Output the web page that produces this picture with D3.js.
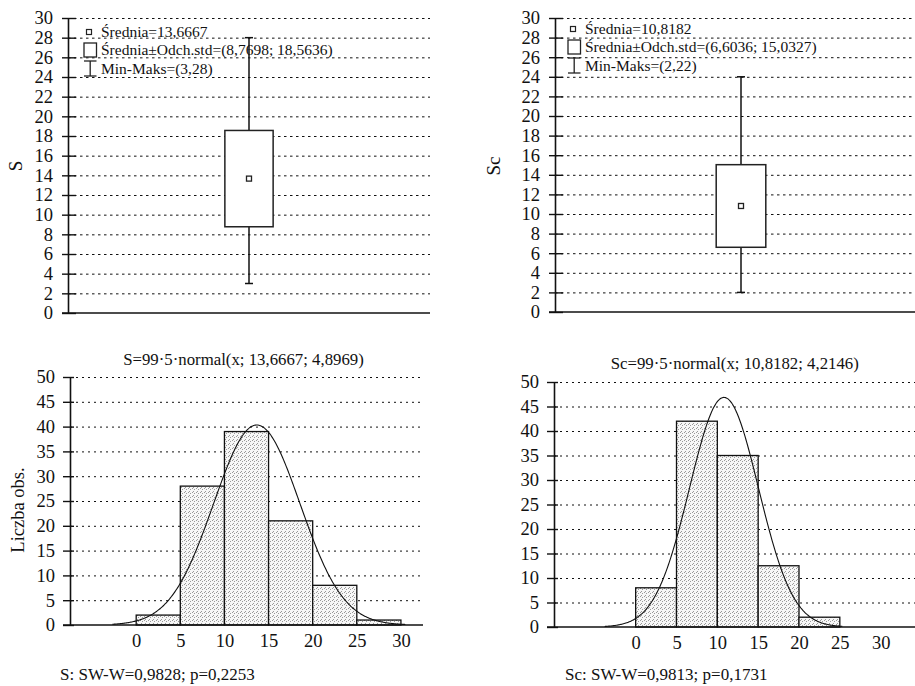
<!DOCTYPE html>
<html>
<head>
<meta charset="utf-8">
<script src="https://cdn.jsdelivr.net/npm/d3@7"></script>
<style>
  html, body { margin: 0; padding: 0; background: #fff; }
  svg { display: block; font-family: "Liberation Serif", "DejaVu Serif", serif; }
</style>
</head>
<body>
<svg id="chart" width="915" height="686"></svg>
<script>
// box plot values
const boxLabels = ['S', 'Sc'];
const boxMeans = [13.6667, 10.8182];
const boxLow = [8.7698, 6.6036];
const boxHigh = [18.5636, 15.0327];
const whiskerMin = [3, 2];
const whiskerMax = [28, 24];
const legendMean = ['Średnia=13,6667', 'Średnia=10,8182'];
const legendSd = ['Średnia±Odch.std=(8,7698; 18,5636)', 'Średnia±Odch.std=(6,6036; 15,0327)'];
const legendMinMax = ['Min-Maks=(3,28)', 'Min-Maks=(2,22)'];
const boxYTicks = [0, 2, 4, 6, 8, 10, 12, 14, 16, 18, 20, 22, 24, 26, 28, 30];

// histogram values
const binStarts = [0, 5, 10, 15, 20, 25];
const binWidth = 5;
const countsS = [2, 28, 39, 21, 8, 1];
const countsSc = [8, 42, 35, 12.5, 2, 0];
const histCounts = [countsS, countsSc];
const fitN = 99;
const fitMeans = [13.6667, 10.8182];
const fitSds = [4.8969, 4.2146];
const curveFrom = [-2.7, -3.8];
const curveTo = [30.5, 25.3];
const histXTicks = [0, 5, 10, 15, 20, 25, 30];
const histYTicks = [0, 5, 10, 15, 20, 25, 30, 35, 40, 45, 50];
const histTitles = ['S=99·5·normal(x; 13,6667; 4,8969)', 'Sc=99·5·normal(x; 10,8182; 4,2146)'];
const histFooters = ['S: SW-W=0,9828; p=0,2253', 'Sc: SW-W=0,9813; p=0,1731'];
const histYLabel = 'Liczba obs.';

const FONT = '"Liberation Serif", "DejaVu Serif", serif';
const svg = d3.select('#chart');

// stipple fill for the bars
const defs = svg.append('defs');
const pat = defs.append('pattern')
  .attr('id', 'stipple')
  .attr('patternUnits', 'userSpaceOnUse')
  .attr('width', 4).attr('height', 4);
pat.append('rect').attr('width', 4).attr('height', 4).attr('fill', '#f7f7f7');
[[0, 0], [2, 1], [1, 3]].forEach(([px, py]) => {
  pat.append('rect').attr('x', px).attr('y', py).attr('width', 1).attr('height', 1).attr('fill', '#9a9a9a');
});

const boxLayout = [
  { axisX: 68, right: 430, top: 18, bottom: 313, labelX: 15, labelY: 166, lx: 21, ly: 14 },
  { axisX: 555, right: 927, top: 18, bottom: 312, labelX: 493, labelY: 166, lx: 18, ly: 11 },
];

const histLayout = [
  { axisX: 70, right: 423, top: 377, bottom: 625, domain: [-7.5, 32.5], titleY: 365, footX: 60, footY: 680 },
  { axisX: 554, right: 921.5, top: 382, bottom: 627, domain: [-10, 35], titleY: 369, footX: 565, footY: 680 },
];

const yAxisStyle = (g, tickRight) => {
  g.attr('font-family', FONT);
  g.select('.domain').attr('stroke', '#111').attr('stroke-width', 1.6);
  g.selectAll('.tick line').attr('stroke', '#111').attr('stroke-width', 1.4);
  g.selectAll('.tick').append('line')
    .attr('x1', 0).attr('x2', tickRight)
    .attr('stroke', '#111').attr('stroke-width', 1.4);
  g.selectAll('.tick text').attr('font-size', 18.5).attr('fill', '#111');
};

// ---- box plots ----
boxLabels.forEach((name, i) => {
  const L = boxLayout[i];
  const g = svg.append('g');
  const y = d3.scaleLinear().domain([0, 30]).range([L.bottom, L.top]);
  const x = d3.scaleBand().domain([name]).range([L.axisX, L.right]).paddingOuter(3.25).paddingInner(0);

  // grid
  g.append('g')
    .attr('transform', `translate(${L.axisX},0)`)
    .call(d3.axisLeft(y).tickValues(boxYTicks.filter((d) => d > 0)).tickSize(-(L.right - L.axisX)).tickFormat(''))
    .call((a) => a.select('.domain').remove())
    .call((a) => a.selectAll('.tick line').attr('stroke', '#111').attr('stroke-dasharray', '2.5,3.5'));

  // x axis line
  g.append('line')
    .attr('x1', L.axisX - 6).attr('x2', L.right)
    .attr('y1', y(0)).attr('y2', y(0))
    .attr('stroke', '#111').attr('stroke-width', 1.6);

  g.append('g')
    .attr('transform', `translate(${L.axisX},0)`)
    .call(d3.axisLeft(y).tickValues(boxYTicks).tickSize(6).tickSizeOuter(0).tickPadding(9))
    .call((a) => yAxisStyle(a, 8));

  const cx = x(name) + x.bandwidth() / 2;
  // whisker
  g.append('line')
    .attr('x1', cx).attr('x2', cx)
    .attr('y1', y(whiskerMin[i])).attr('y2', y(whiskerMax[i]))
    .attr('stroke', '#111').attr('stroke-width', 1.5);
  [whiskerMin[i], whiskerMax[i]].forEach((v) => {
    g.append('line')
      .attr('x1', cx - 4).attr('x2', cx + 4)
      .attr('y1', y(v)).attr('y2', y(v))
      .attr('stroke', '#111').attr('stroke-width', 1.5);
  });
  // box
  g.append('rect')
    .attr('x', x(name)).attr('width', x.bandwidth())
    .attr('y', y(boxHigh[i])).attr('height', y(boxLow[i]) - y(boxHigh[i]))
    .attr('fill', '#fff').attr('stroke', '#222').attr('stroke-width', 1.5);
  g.append('rect')
    .attr('x', cx - 2.5).attr('y', y(boxMeans[i]) - 2.5)
    .attr('width', 5).attr('height', 5)
    .attr('fill', '#fff').attr('stroke', '#222').attr('stroke-width', 1.3);

  // y label
  g.append('text')
    .attr('transform', `translate(${L.labelX},${L.labelY}) rotate(-90)`)
    .attr('text-anchor', 'middle').attr('dy', '0.35em')
    .attr('font-size', 19).attr('fill', '#111')
    .text(name);

  // legend
  const lx = L.axisX + L.lx, ly = L.top + L.ly;
  const lg = g.append('g').attr('font-size', 15.5).attr('fill', '#111');
  lg.append('rect').attr('x', lx - 2.5).attr('y', ly - 2.5).attr('width', 5).attr('height', 5)
    .attr('fill', '#fff').attr('stroke', '#222').attr('stroke-width', 1.2);
  lg.append('rect').attr('x', lx - 5).attr('y', ly + 11).attr('width', 12.5).attr('height', 14)
    .attr('fill', '#fff').attr('stroke', '#222').attr('stroke-width', 1.3);
  const wx = lx + 1.2;
  lg.append('line').attr('x1', wx).attr('x2', wx).attr('y1', ly + 29).attr('y2', ly + 44).attr('stroke', '#222').attr('stroke-width', 1.3);
  [ly + 29, ly + 44].forEach((yy) => {
    lg.append('line').attr('x1', lx - 5).attr('x2', lx + 7.5).attr('y1', yy).attr('y2', yy).attr('stroke', '#222').attr('stroke-width', 1.3);
  });
  lg.append('text').attr('x', lx + 12).attr('y', ly + 4.5).text(legendMean[i]);
  lg.append('text').attr('x', lx + 12).attr('y', ly + 23).text(legendSd[i]);
  lg.append('text').attr('x', lx + 12).attr('y', ly + 42).text(legendMinMax[i]);
});

// ---- histograms ----
histCounts.forEach((counts, i) => {
  const L = histLayout[i];
  const g = svg.append('g');
  const x = d3.scaleLinear().domain(L.domain).range([L.axisX, L.right]);
  const y = d3.scaleLinear().domain([0, 50]).range([L.bottom, L.top]);

  g.append('g')
    .attr('transform', `translate(${L.axisX},0)`)
    .call(d3.axisLeft(y).tickValues(histYTicks.filter((d) => d > 0)).tickSize(-(L.right - L.axisX)).tickFormat(''))
    .call((a) => a.select('.domain').remove())
    .call((a) => a.selectAll('.tick line').attr('stroke', '#111').attr('stroke-dasharray', '2,4'));

  // bars
  g.selectAll('.bar')
    .data(binStarts.map((b, k) => ({ b, v: counts[k] })).filter((d) => d.v > 0))
    .join('rect')
    .attr('class', 'bar')
    .attr('x', (d) => x(d.b))
    .attr('width', (d) => x(d.b + binWidth) - x(d.b))
    .attr('y', (d) => y(d.v))
    .attr('height', (d) => y(0) - y(d.v))
    .attr('fill', 'url(#stipple)')
    .attr('stroke', '#111').attr('stroke-width', 1.3);

  // fitted normal curve, as given in the title
  const pdf = (v) => fitN * binWidth * Math.exp(-0.5 * ((v - fitMeans[i]) / fitSds[i]) ** 2) / (fitSds[i] * Math.sqrt(2 * Math.PI));
  const pts = d3.range(curveFrom[i], curveTo[i] + 0.001, 0.1).map((v) => [v, pdf(v)]);
  g.append('path')
    .datum(pts)
    .attr('fill', 'none').attr('stroke', '#111').attr('stroke-width', 1.1)
    .attr('d', d3.line().x((d) => x(d[0])).y((d) => y(d[1])).curve(d3.curveMonotoneX));

  // axes
  g.append('line')
    .attr('x1', L.axisX - 7).attr('x2', L.right)
    .attr('y1', y(0)).attr('y2', y(0))
    .attr('stroke', '#111').attr('stroke-width', 1.6);

  g.append('g')
    .attr('transform', `translate(${L.axisX},0)`)
    .call(d3.axisLeft(y).tickValues(histYTicks).tickSize(7).tickSizeOuter(0).tickPadding(8))
    .call((a) => yAxisStyle(a, 4));

  g.append('g')
    .attr('transform', `translate(0,${y(0)})`)
    .call(d3.axisBottom(x).tickValues(histXTicks).tickSize(0).tickPadding(9))
    .attr('font-family', FONT)
    .call((a) => a.select('.domain').remove())
    .call((a) => a.selectAll('.tick text').attr('font-size', 18.5).attr('fill', '#111'));

  g.append('text')
    .attr('x', (L.axisX + L.right) / 2 - 3).attr('y', L.titleY)
    .attr('text-anchor', 'middle').attr('font-size', 16.8).attr('fill', '#111')
    .text(histTitles[i]);

  g.append('text')
    .attr('x', L.footX).attr('y', L.footY)
    .attr('font-size', 17).attr('fill', '#111')
    .text(histFooters[i]);

  if (i === 0) {
    g.append('text')
      .attr('transform', `translate(18,${(L.top + L.bottom) / 2 + 9}) rotate(-90)`)
      .attr('text-anchor', 'middle').attr('dy', '0.35em')
      .attr('font-size', 18.5).attr('fill', '#111')
      .text(histYLabel);
  }
});
</script>
</body>
</html>
